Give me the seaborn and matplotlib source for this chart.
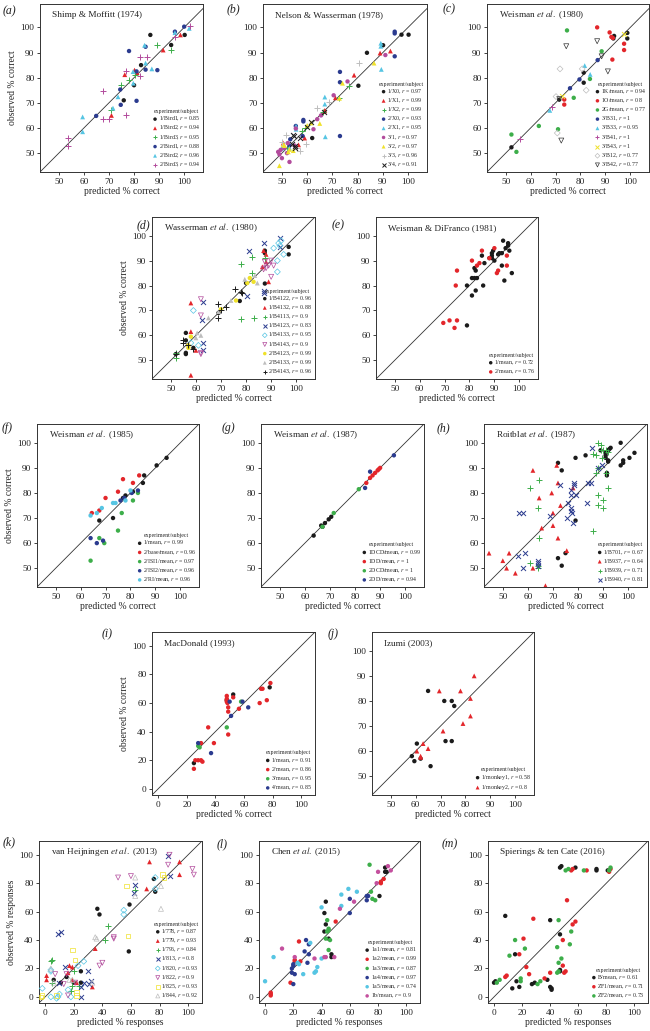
import seaborn as sns
import matplotlib.pyplot as plt

# ---- data: (predicted, observed) pairs per experiment/subject ----
a_names = ["1/Bird1", "1/Bird2", "1/Bird3", "2/Bird1", "2/Bird2", "2/Bird3"]
a_r = [0.85, 0.94, 0.95, 0.88, 0.96, 0.94]
a_pts = [
    [(86.5, 97), (94.8, 93), (100.2, 97), (82.8, 85), (80, 77), (75.9, 71)],
    [(98.5, 97), (91.6, 91), (76.3, 81.2), (80.2, 83), (81.2, 82), (71, 65)],
    [(89.3, 93), (94.7, 91), (75, 77), (77.9, 79), (70.8, 67), (80.5, 81)],
    [(100, 100.3), (96.3, 98.3), (78, 90.6), (84.6, 92.3), (81, 82.5), (84.6, 83.2),
     (89.3, 83), (74.5, 75.3), (74.7, 69.2), (81, 70.8), (64.9, 64.8)],
    [(96.3, 97.9), (102, 99.6), (84.2, 92.9), (84.6, 85.8), (87.1, 83.5), (79.6, 82.4),
     (79.7, 77.8), (73.6, 72.4), (71.6, 67.9), (59.5, 64.4), (59.5, 58.5)],
    [(102.4, 100.6), (96.3, 96), (85.1, 88.4), (82.2, 88.2), (76.7, 82.7), (82.5, 80.6),
     (67.6, 74.7), (67.5, 63.7), (69.9, 63.6), (76.7, 65.2), (53.5, 56), (53.5, 53)],
]

b_names = ["1/X0", "1/X1", "1/X2", "2/X0", "2/X1", "3/1", "3/2", "3/3", "3/4"]
b_r = [0.97, 0.99, 0.99, 0.93, 0.95, 0.97, 0.97, 0.96, 0.91]
b_pts = [
    [(97.4, 97.1), (100.2, 97.1), (90.1, 92.9), (83.7, 89.9), (80.3, 76.8), (62, 56)],
    [(93, 90.6), (88.9, 89.8), (78.6, 81), (71.2, 72), (66.8, 66.5), (67, 67), (59, 56),
     (56.6, 53.3), (50.5, 54)],
    [(76.5, 76.8), (72.5, 71.8), (66.4, 66.3), (59, 60), (58, 59), (52, 52)],
    [(94.7, 98.3), (94.7, 97.6), (94.7, 88.5), (73, 82.3), (73, 78.2), (73, 56.8),
     (58.5, 63.2), (58.5, 62.6), (58.2, 56.8), (55.5, 60.8), (53.3, 55.5), (53, 53)],
    [(89.2, 93.7), (89.2, 92.5), (89.4, 83.3), (67, 72.3), (67, 69.5), (67.2, 56.5),
     (55.6, 60.7), (55.6, 59.5), (53, 52), (50, 52)],
    [(91, 89), (76, 78.5), (70.5, 73), (65.5, 65), (64, 63.5), (62.5, 59.5), (55.5, 59.8),
     (55, 53), (52.3, 54), (48.5, 50.5), (49, 49.5), (49.5, 51.3), (52, 50), (53, 46.5),
     (50, 48), (51, 52)],
    [(86.5, 85.8), (74, 77.8), (72.8, 71.8), (65, 61.8), (60, 61), (61.5, 62), (53, 51.5),
     (51, 53), (52.5, 50.5), (54.5, 51), (49, 45), (50.5, 53.5)],
    [(80.5, 86), (68.5, 70.5), (64, 68), (59.5, 53.5), (51.5, 57.3), (56, 52), (57, 51),
     (50, 54.5)],
    [(54.5, 57.3), (54.8, 56.7), (61.5, 62.5), (60, 60.3), (57, 56), (55, 53), (55, 52),
     (54, 53.5), (66.7, 66.5)],
]

c_names = ["1K/mean", "1O/mean", "2G/mean", "3/B31", "3/B33", "3/B41", "3/B43", "3/B12", "3/B42"]
c_r = [0.94, 0.8, 0.77, 1, 0.95, 1, 1, 0.77, 0.77]
c_pts = [
    [(98.8, 97.8), (98.8, 95.6), (93.5, 96.6), (93.2, 95.6), (81.3, 82), (81.3, 78),
     (71.5, 71.3), (52.3, 52.3)],
    [(86.7, 100), (91.7, 98), (92.4, 96.2), (93, 95.8), (97.5, 93.5), (97.5, 91),
     (92.8, 87.2), (73.5, 71.3), (73.5, 69.3)],
    [(74.6, 98.8), (88.5, 90.5), (83.8, 79.5), (77.3, 72), (63.3, 60.8), (71, 59.5),
     (52.3, 57.4), (54.3, 50.5)],
    [(86.9, 87), (79.6, 79.3), (75.8, 75.8)],
    [(81.7, 84.8), (83.9, 81.3), (67.7, 67)],
    [(68.5, 68.5), (55.7, 55.8)],
    [(97.5, 97.3), (72.5, 72.6)],
    [(71.8, 83.5), (80.7, 83.5), (82.3, 75), (70.2, 72.5), (70.7, 58)],
    [(74.3, 92.5), (86.7, 94.5), (88.5, 88.5), (91, 82.5), (72.3, 55), (71.5, 71.5)],
]

d_names = ["1/B4122", "1/B4132", "1/B4113", "1/B4123", "1/B4133", "1/B4143",
           "2/B4123", "2/B4133", "2/B4143"]
d_r = [0.96, 0.88, 0.9, 0.83, 0.95, 0.9, 0.99, 0.99, 0.96]
d_pts = [
    [(97, 95.5), (97, 92.5), (87.5, 94), (87.5, 93), (87.5, 80.8), (77.5, 73.8), (56, 61),
     (56, 58), (56, 53), (56, 52.5), (52, 52.5), (59, 55), (69, 69), (80, 81)],
    [(58, 73), (58, 44), (58, 61.5), (87, 94), (88, 92.5), (89, 81.5), (86.5, 87.5),
     (88, 89.5), (60, 54)],
    [(78, 88.5), (82.5, 91.5), (82.5, 85), (78, 66.5), (83, 67), (52, 51), (52, 53), (87.5, 91)],
    [(81, 93.8), (87, 97), (87, 78), (87, 77), (80.5, 76), (63, 73.5), (62.5, 66), (63, 57),
     (63, 54), (93.5, 99), (93.5, 95.5)],
    [(93, 97), (94, 98), (93.5, 96), (95, 92.5), (92.5, 90), (92.5, 85.5), (91, 95), (59, 70),
     (58, 57), (61, 56)],
    [(62, 74.5), (62, 68), (62, 52.5), (62, 53), (87.5, 89.5), (88, 87), (90, 90), (89, 88),
     (91, 88), (90, 83.5), (87, 86.5)],
    [(57, 56), (58, 59.5), (70, 70.5), (76, 74), (80.5, 81), (81.5, 83), (83, 81.5), (57, 55)],
    [(60, 59), (60.5, 61), (62, 60), (65, 67), (69, 69.5), (74, 74), (79.5, 82.5),
     (83.5, 84), (84.5, 81)],
    [(52, 52.5), (55, 57), (55, 58), (59, 54.5), (69, 67), (69, 72.5), (70, 70), (72, 71.5),
     (75.5, 78.5), (78, 77.5), (78.5, 77), (57, 56)],
]

e_names = ["1/mean", "2/mean"]
e_r = [0.72, 0.76]
e_pts = [
    [(93.5, 98), (95.5, 97), (95.5, 96), (96, 94), (94.5, 95), (93, 93), (92, 93),
     (91.5, 92.5), (89.5, 94), (89, 93), (89, 92), (89, 91), (88, 91), (85, 92), (86, 89),
     (90, 90), (82, 87), (82.5, 86), (82, 83), (83, 83), (81, 83), (79, 80), (81, 76),
     (82.5, 78), (85.5, 80), (93, 88), (94, 82), (97, 85), (79, 64)],
    [(90, 95), (85, 94), (81, 90), (83, 88), (84, 89), (88, 91), (95, 92), (95, 88),
     (91.5, 86), (91, 85), (75, 86), (74.5, 80), (69.5, 65), (72, 66), (75, 66), (74, 63)],
]

f_names = ["1/mean", "2/base/mean", "2/ISI1/mean", "2/ISI2/mean", "2/RI/mean"]
f_r = [0.99, 0.96, 0.97, 0.96, 0.96]
f_pts = [
    [(94.5, 94), (90.5, 91), (85.5, 87), (85, 84), (78, 79), (77, 78), (73, 70), (67.5, 69),
     (81, 80.5)],
    [(83.5, 87), (77, 85.5), (81, 84), (75, 80.5), (70, 78), (67.5, 73), (64.5, 72)],
    [(76.5, 72), (83, 80), (81, 77), (75, 65), (67.5, 62), (69.5, 60), (64, 53)],
    [(83, 81), (80.5, 80), (77.5, 78), (76, 77), (69, 61), (66.5, 60), (64, 62)],
    [(80, 81), (78, 77), (74, 76), (73, 76), (68.5, 74), (66.5, 72), (64, 71)],
]

g_names = ["1DCD/mean", "1DD/mean", "2DCD/mean", "2DD/mean"]
g_r = [0.99, 1, 1, 0.94]
g_pts = [
    [(70.5, 70.5), (69.5, 69.5), (68, 68), (66.5, 67), (63.5, 63), (67, 66.5)],
    [(90, 90), (89, 89), (88, 88), (87, 87), (86, 86), (84.5, 84), (89.5, 89.5)],
    [(81.5, 81.5), (71.5, 72), (67, 66.5)],
    [(95.5, 95), (86, 88.5), (84, 82)],
]

h_names = ["1/B701", "1/B937", "1/B939", "1/B940"]
h_r = [0.67, 0.64, 0.71, 0.81]
h_pts = [
    [(97, 100), (102.5, 96), (100.5, 94), (98, 93), (98, 92), (97, 91), (92.5, 97.5),
     (93, 98), (92, 97), (91, 96), (91, 95), (92, 92.5), (92, 93), (91.5, 88), (91.5, 87),
     (83, 95), (79, 94), (73.5, 89), (72, 92), (79, 69), (75, 56), (72, 54), (73.5, 51),
     (89, 97), (91, 94)],
    [(44.5, 56), (50, 53), (52.5, 56), (51.5, 50), (55, 48), (62, 50), (65.5, 66), (70, 72),
     (70, 67), (69.5, 80), (72, 84), (72, 62), (73, 75), (75.5, 57), (71.5, 91), (62, 89),
     (64.5, 78), (67, 43), (78, 82)],
    [(88, 100), (89, 99), (91, 97), (92, 96.5), (87, 95), (86, 95.5), (89.5, 94), (88, 90),
     (87, 88), (91, 88), (92, 82), (88, 79), (88, 75), (90, 77), (90, 74), (86, 65),
     (64.5, 85), (61, 82), (64, 74), (64.5, 62), (61, 52), (64, 50), (64, 51), (89, 97),
     (90, 97)],
    [(85.5, 98), (89.5, 91), (88, 90), (85, 84), (84, 84), (83.5, 76), (79, 79), (78.5, 84),
     (78.5, 83), (77, 81), (77, 79), (76, 76), (77, 73), (77.5, 72), (75.5, 70), (78, 68),
     (73, 83), (69, 71), (56.5, 72), (58, 72), (56, 55), (59, 56), (58, 50), (64, 53),
     (64, 52), (64, 51), (77, 74)],
]

i_names = ["1/mean", "2/mean", "3/mean", "4/mean"]
i_r = [0.91, 0.86, 0.95, 0.85]
i_pts = [
    [(52.5, 66), (78, 71), (25, 18), (48, 62)],
    [(48, 65), (48, 63), (48, 62), (48, 61), (48.5, 60), (49, 57), (49, 54), (52.5, 64),
     (56.5, 56), (72, 70), (73, 70), (71, 60), (76, 62), (78.5, 74), (35, 43), (39, 32),
     (49, 38), (30, 32), (28, 20), (30, 20), (31, 19), (26, 20), (25, 14)],
    [(48, 43), (58, 61), (28, 30), (29, 29)],
    [(50, 61), (59, 61), (63, 57), (51, 51), (37, 25), (28, 32)],
]

j_names = ["1/monkey1", "1/monkey2"]
j_r = [0.58, 0.8]
j_pts = [
    [(65, 84), (71.5, 80), (74.5, 80), (75.5, 78), (72, 64), (74.5, 64), (60.5, 63),
     (58.5, 58), (62, 57), (59.5, 56), (66, 54)],
    [(83.5, 90), (69.5, 84), (78, 84), (82, 81), (82, 74), (79, 71), (71, 68), (63, 63),
     (65, 61), (60.5, 60), (62, 58), (62, 57.5)],
]

k_names = ["1/778", "1/779", "1/796", "1/813", "1/820", "1/822", "1/825", "1/844"]
k_r = [0.87, 0.93, 0.84, 0.8, 0.93, 0.9, 0.93, 0.92]
k_pts = [
    [(36.5, 62), (38, 58), (59, 65), (76, 83), (77, 74), (58.5, 32), (15, 14), (11, 10),
     (25, 18), (25, 10), (6, 12), (20, 10)],
    [(73, 95), (94, 95), (94, 86), (71, 76), (35, 34), (17, 22), (19, 21), (19, 12), (1, 15),
     (1, 12), (33, 7), (16, 17), (22, 10)],
    [(44, 50), (42, 40), (63, 75), (5, 26), (4, 25), (5, 10), (19, 8), (20, 18), (18, 4),
     (24, 8)],
    [(9, 44), (11, 46), (62, 73), (63, 79), (87, 85), (86, 99), (14, 21), (30, 18), (32, 11),
     (31, 9), (27, 10), (25, 7), (25, 0), (10, 10)],
    [(55, 58), (55, 61), (77, 76), (77, 84), (27, 25), (23, 22), (4, 18), (4, 19), (-2, 6),
     (4, 0), (10, 2), (9, 0), (18, 0), (16, 5), (8, -1)],
    [(51, 84), (60, 85), (86, 93), (87, 100), (103, 90), (104, 86), (48, 41), (48, 42),
     (40, 24), (38, 22), (15, 16), (7, 16), (21, 10), (13, 9), (16, 1)],
    [(57, 78), (58, 43), (82, 86), (83, 84), (19, 33), (21, 26), (-3, 0), (-2, 1), (8, 1),
     (22, 1), (22, 3)],
    [(35, 42), (36, 41), (63, 84), (63, 71), (81, 62), (81, 78), (17, 12), (6, 10), (4, 20),
     (19, 12), (33, 10)],
]

l_names = ["1a1/mean", "1a2/mean", "1a3/mean", "1a4/mean", "1a5/mean", "1b/mean"]
l_r = [0.81, 0.99, 0.87, 0.97, 0.74, 0.9]
l_pts = [
    [(85, 91), (85, 88), (86, 88), (81, 71), (43, 67), (42, 59), (43, 51), (42, 46),
     (45, 41), (47, 30), (47, 28)],
    [(84, 83), (82, 81), (82, 80), (50, 53), (24, 39), (21, 26), (21, 25), (25, 25),
     (18, 10), (4, 3), (4, 2), (4, 1)],
    [(74, 93), (75, 74), (76, 69), (78, 68), (44, 54), (45, 48), (45, 47), (44, 46),
     (43, 41), (46, 40), (45, 33)],
    [(73, 71), (72, 71), (72, 68), (60, 69), (60, 59), (29, 40), (31, 37), (28, 32),
     (31, 30), (30, 24), (20, 23), (20, 22), (19, 20), (19, 17), (21, 16), (20, 9)],
    [(54, 72), (59, 76), (65, 74), (54, 64), (40, 63), (32, 38), (24, 23), (23, 24),
     (36, 18), (35, 17), (37, 21), (40, 27), (27, 16), (6, 28), (0, 11)],
    [(87, 92), (89, 89), (80, 88), (79, 80), (63, 67), (53, 62), (12, 34), (21, 28),
     (35, 27), (42, 28), (43, 28), (49, 28)],
]

m_names = ["B/mean", "ZF1/mean", "ZF2/mean"]
m_r = [0.61, 0.71, 0.73]
m_pts = [
    [(47, 91), (48, 92), (58, 91), (73, 89), (73, 90), (81, 89), (8, 57), (40, 54), (47, 44),
     (0, 10), (1, 11), (15, 30), (16, 11), (13, 6), (18, 7), (27, 9), (29, 10), (38, 12),
     (40, 7), (41, 6), (41, 5), (47, 19), (47, 18)],
    [(55, 89), (56, 90), (66, 89), (82, 88), (83, 90), (52, 68), (58, 53), (56, 51), (49, 40),
     (49, 22), (50, 17), (51, 18), (40, 17), (36, 13), (28, 55), (21, 41), (23, 21), (25, 16),
     (18, 30), (9, 15), (8, 14)],
    [(51, 89), (53, 90), (64, 89), (83, 91), (82, 89), (46, 54), (55, 46), (54, 37), (45, 35),
     (46, 24), (48, 27), (45, 17), (46, 18), (33, 11), (31, 9), (15, 40), (22, 34), (11, 29),
     (19, 13), (19, 11), (4, 12), (2, 10)],
]

# ---- styling ----
sns.set_theme(style="ticks")
plt.rcParams['font.family'] = ['Liberation Serif', 'DejaVu Serif']
plt.rcParams['mathtext.fontset'] = 'stix'

K, R, G, B, C, M, Y, GR = ('#1b1b1b', '#e3262b', '#3dae4a', '#2b3b8f',
                           '#56c5e3', '#b24b9c', '#efe12a', '#bdbdbd')
DK = '#333333'

MARK = {
    'o': dict(marker='o', s=10, edgecolor='none'),
    '^': dict(marker='^', s=12, edgecolor='none'),
    '+': dict(marker='+', s=20, linewidth=0.7),
    'x': dict(marker='x', s=13, linewidth=0.7),
    'oD': dict(marker='D', s=9, facecolor='none', linewidth=0.5),
    'ov': dict(marker='v', s=13, facecolor='none', linewidth=0.5),
    'os': dict(marker='s', s=10, facecolor='none', linewidth=0.5),
    'o^': dict(marker='^', s=13, facecolor='none', linewidth=0.5),
}

W, H = 650, 1031
fig = plt.figure(figsize=(W / 100, H / 100), dpi=100)

pc = (42.5, 107.5)
pr = (-4.3, 109.7)
t50 = [50, 60, 70, 80, 90, 100]
t0 = [0, 20, 40, 60, 80, 100]

panels = [
    # label, title, pts, names, r, styles, rect(l,t,w,h), xlim, ylim, ticks, xlab, ylab, labpos
    ("a", "Shimp & Moffitt (1974)", a_pts, a_names, a_r,
     [(K, 'o'), (R, '^'), (G, '+'), (B, 'o'), (C, '^'), (M, '+')],
     (40, 4, 163, 168), pc, (42.5, 109.3), t50, "predicted % correct", "observed % correct", (3, 11)),
    ("b", "Nelson & Wasserman (1978)", b_pts, b_names, b_r,
     [(K, 'o'), (R, '^'), (G, '+'), (B, 'o'), (C, '^'), (M, 'o'), (Y, '^'), (GR, '+'), (K, 'x')],
     (263, 4, 164, 168), pc, (42.5, 109.3), t50, "predicted % correct", None, (227, 9)),
    ("c", "Weisman $\\it{et\\ al.}$ (1980)", c_pts, c_names, c_r,
     [(K, 'o'), (R, 'o'), (G, 'o'), (B, 'o'), (C, '^'), (M, '+'), (Y, 'x'), (GR, 'oD'), (DK, 'ov')],
     (487, 4, 162, 168), pc, (42.5, 109.3), t50, "predicted % correct", None, (443, 9)),
    ("d", "Wasserman $\\it{et\\ al.}$ (1980)", d_pts, d_names, d_r,
     [(K, 'o'), (R, '^'), (G, '+'), (B, 'x'), (C, 'oD'), (M, 'ov'), (Y, 'o'), (GR, '^'), (K, '+')],
     (152, 217, 163, 162), pc, pc, t50, "predicted % correct", "observed % correct", (137, 225)),
    ("e", "Weisman & DiFranco (1981)", e_pts, e_names, e_r,
     [(K, 'o'), (R, 'o')],
     (376, 217, 162, 162), pc, pc, t50, "predicted % correct", None, (332, 225)),
    ("f", "Weisman $\\it{et\\ al.}$ (1985)", f_pts, f_names, f_r,
     [(K, 'o'), (R, 'o'), (G, 'o'), (B, 'o'), (C, 'o')],
     (37, 424, 162, 163), pc, pc, t50, "predicted % correct", "observed % correct", (2, 428)),
    ("g", "Weisman $\\it{et\\ al.}$ (1987)", g_pts, g_names, g_r,
     [(K, 'o'), (R, 'o'), (G, 'o'), (B, 'o')],
     (261, 424, 163, 163), pc, pc, t50, "predicted % correct", None, (222, 428)),
    ("h", "Roitblat $\\it{et\\ al.}$ (1987)", h_pts, h_names, h_r,
     [(K, 'o'), (R, '^'), (G, '+'), (B, 'x')],
     (484, 424, 163, 163), pc, pc, t50, "predicted % correct", None, (437, 428)),
    ("i", "MacDonald (1993)", i_pts, i_names, i_r,
     [(K, 'o'), (R, 'o'), (G, 'o'), (B, 'o')],
     (152, 632, 163, 163), pr, pr, t0, "predicted % correct", "observed % correct", (102, 634)),
    ("j", "Izumi (2003)", j_pts, j_names, j_r,
     [(K, 'o'), (R, '^')],
     (372, 632, 162, 163), pc, pc, t50, "predicted % correct", None, (328, 634)),
    ("k", "van Heijningen $\\it{et\\ al.}$ (2013)", k_pts, k_names, k_r,
     [(K, 'o'), (R, '^'), (G, '+'), (B, 'x'), (C, 'oD'), (M, 'ov'), (Y, 'os'), (GR, 'o^')],
     (39, 841, 163, 162), pr, pr, t0, "predicted % responses", "observed % responses", (3, 842)),
    ("l", "Chen $\\it{et\\ al.}$ (2015)", l_pts, l_names, l_r,
     [(K, 'o'), (R, 'o'), (G, 'o'), (B, 'o'), (C, 'o'), ('#c4509e', 'o')],
     (259, 841, 161, 162), pr, pr, t0, "predicted % responses", None, (217, 844)),
    ("m", "Spierings & ten Cate (2016)", m_pts, m_names, m_r,
     [(K, 'o'), (R, 'o'), (G, 'o')],
     (488, 841, 160, 162), pr, pr, t0, "predicted % responses", None, (442, 844)),
]

for (lab, title, pts, names, rs, styles, rect, xl, yl, ticks, xlab, ylab, lp) in panels:
    l, t, w, h = rect
    ax = fig.add_axes([l / W, 1 - (t + h) / H, w / W, h / H])
    ax.axline((0, 0), slope=1, color=DK, lw=0.6, zorder=1)
    for p, nm, r, (col, mk) in zip(pts, names, rs, styles):
        kw = dict(MARK[mk])
        if mk.startswith('o') and len(mk) == 2:
            kw['edgecolor'] = col
        sns.scatterplot(x=[q[0] for q in p], y=[q[1] for q in p], ax=ax, color=col,
                        label=f"{nm}, $r$ = {r:g}", legend=False, zorder=3, **kw)
    ax.set_xlim(*xl)
    ax.set_ylim(*yl)
    ax.set_xticks(ticks)
    ax.set_yticks(ticks)
    ax.tick_params(direction='out', length=2.5, width=0.6, labelsize=6.7, pad=1.5,
                   colors='#222222')
    for sp in ax.spines.values():
        sp.set_linewidth(0.7)
        sp.set_color(DK)
    ax.set_xlabel(xlab, fontsize=6.9, labelpad=1)
    ax.set_ylabel(ylab if ylab else "", fontsize=6.9, labelpad=2.5)
    ax.text(12 / w, 1 - 11 / h, title, transform=ax.transAxes, fontsize=6.7,
            va='center', ha='left', color='#222222')
    ax.legend(loc='lower right', frameon=False, fontsize=4.2, title='experiment/subject',
              title_fontsize=4.2, handletextpad=0.1, labelspacing=0.15, borderaxespad=0.3,
              handlelength=1.0, markerscale=0.8, borderpad=0.2)
    fig.text(lp[0] / W, 1 - lp[1] / H, f"({lab})", fontsize=8.5, style='italic',
             va='center', ha='left', color='#222222')

fig.savefig("out.png", dpi=100)
